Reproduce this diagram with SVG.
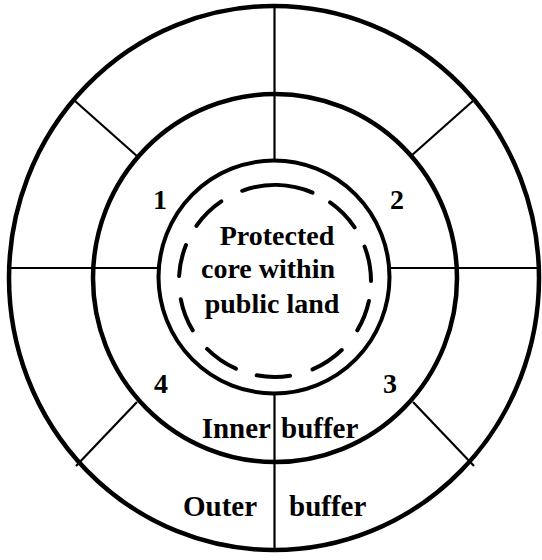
<svg xmlns="http://www.w3.org/2000/svg" width="542" height="560" viewBox="0 0 542 560">
  <style>
    .ring { fill: none; stroke: #000; }
    .rule { stroke: #000; stroke-width: 2.2; fill: none; }
    .dash { fill: none; stroke: #000; stroke-width: 4; stroke-linecap: round; }
    .lbl { font-family: "Liberation Serif", "Times New Roman", serif; font-weight: bold; fill: #000; }
  </style>
  <rect width="542" height="560" fill="#fff"/>

  <!-- zones -->
  <g id="outer-buffer">
    <ellipse class="ring" cx="274" cy="278" rx="265" ry="272" stroke-width="4.5"/>
  </g>
  <g id="inner-buffer">
    <ellipse class="ring" cx="275" cy="278" rx="182" ry="184" stroke-width="4.5"/>
  </g>
  <g id="core">
    <ellipse class="ring" cx="274" cy="277" rx="115.5" ry="116.5" stroke-width="4"/>
    <path class="dash" d="M242.2,190.8 A96,96 0 0 1 312.5,192.6
                          M330.1,202.4 A96,96 0 0 1 354.6,227.3
                          M364.6,246.6 A96,96 0 0 1 371,281
                          M368.9,301 A96,96 0 0 1 357.3,330.4
                          M341.7,350 A96,96 0 0 1 312.5,369.4
                          M290,375.8 A96,96 0 0 1 256.7,375.3
                          M235.9,368.7 A96,96 0 0 1 207.1,348.9
                          M192.7,330.4 A96,96 0 0 1 180.8,299.3
                          M179.1,276 A96,96 0 0 1 186,245
                          M196.4,225.9 A96,96 0 0 1 221.3,201.4"/>
  </g>

  <!-- sector dividers -->
  <g id="dividers">
    <line class="rule" x1="8" y1="268" x2="158" y2="268"/>
    <line class="rule" x1="390" y1="268" x2="539" y2="268"/>
    <line class="rule" x1="274.5" y1="6" x2="274.5" y2="161"/>
    <line class="rule" x1="274.5" y1="393" x2="274.5" y2="550"/>
    <line class="rule" x1="75" y1="101" x2="138" y2="157"/>
    <line class="rule" x1="474" y1="100" x2="411" y2="156"/>
    <line class="rule" x1="76" y1="466" x2="137" y2="402"/>
    <line class="rule" x1="474" y1="466" x2="413" y2="402"/>
  </g>

  <!-- labels -->
  <g id="labels" class="lbl">
    <text x="160" y="209" font-size="28" text-anchor="middle">1</text>
    <text x="397" y="209" font-size="28" text-anchor="middle">2</text>
    <text x="390" y="393" font-size="28" text-anchor="middle">3</text>
    <text x="161" y="393" font-size="28" text-anchor="middle">4</text>
    <text x="277" y="245" font-size="28" text-anchor="middle">Protected</text>
    <text x="268" y="278" font-size="28" text-anchor="middle">core within</text>
    <text x="272" y="313" font-size="28" text-anchor="middle">public land</text>
    <text x="271" y="438" font-size="29" text-anchor="end">Inner</text>
    <text x="281" y="438" font-size="29">buffer</text>
    <text x="183" y="516" font-size="29">Outer</text>
    <text x="289" y="516" font-size="29">buffer</text>
  </g>
</svg>
